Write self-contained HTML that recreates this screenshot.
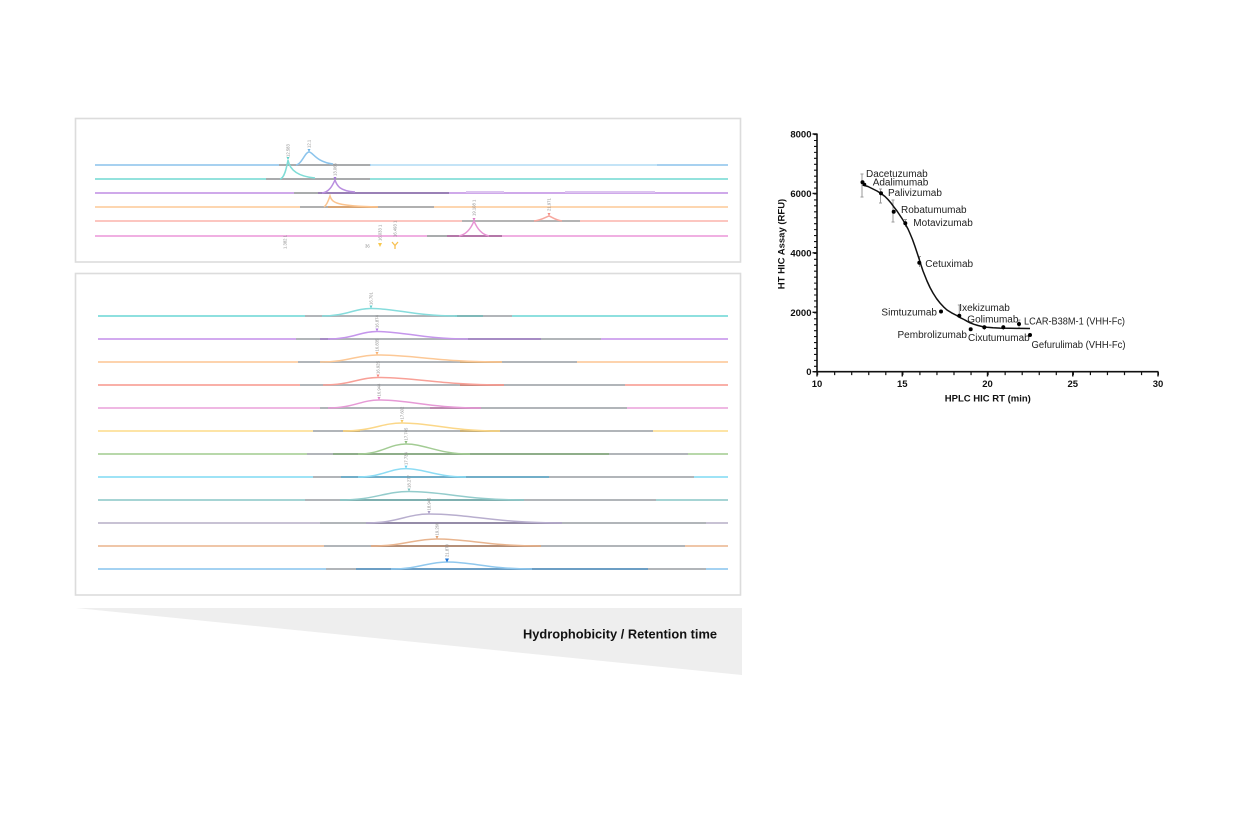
<!DOCTYPE html>
<html><head><meta charset="utf-8"><style>
html,body{margin:0;padding:0;background:#fff}
svg{display:block}
.lb{font-family:"Liberation Sans",Arial,sans-serif;font-size:10px;fill:#222}
.tk{font-family:"Liberation Sans",Arial,sans-serif;font-size:9.5px;font-weight:bold;fill:#111}
.vl{font-family:"Liberation Sans",Arial,sans-serif;font-size:4.2px;fill:#8a8a8a}
</style></head><body>
<svg width="1256" height="838" viewBox="0 0 1256 838" xmlns="http://www.w3.org/2000/svg">
<rect width="1256" height="838" fill="#fff"/>

<!-- ===== TOP PANEL ===== -->
<rect x="75.5" y="118.5" width="665" height="143.5" fill="#fff" stroke="#dcdcdc" stroke-width="1.6"/>
<g fill="none" stroke-width="2">
  <line x1="95" y1="165" x2="728" y2="165" stroke="#a7d1f0"/>
  <line x1="371" y1="165" x2="657" y2="165" stroke="#c4e4f7"/>
  <line x1="95" y1="179" x2="728" y2="179" stroke="#93e2dd"/>
  <line x1="95" y1="193" x2="728" y2="193" stroke="#cfa9ea"/>
  <line x1="466" y1="192" x2="504" y2="192" stroke="#dcc3f0"/>
  <line x1="565" y1="192" x2="655" y2="192" stroke="#dcc3f0"/>
  <line x1="95" y1="207" x2="728" y2="207" stroke="#fdd6b0"/>
  <line x1="95" y1="221" x2="728" y2="221" stroke="#fcc6c0"/>
  <line x1="95" y1="236" x2="728" y2="236" stroke="#f0b0e2"/>
  <line x1="279" y1="165" x2="370" y2="165" stroke="#a9abad"/>
  <line x1="266" y1="179" x2="370" y2="179" stroke="#a9abad"/>
  <line x1="294" y1="193" x2="449" y2="193" stroke="#a9abad"/>
  <line x1="318" y1="193" x2="449" y2="193" stroke="#9a80b6"/>
  <line x1="300" y1="207" x2="434" y2="207" stroke="#b0b0b0"/>
  <line x1="328" y1="207" x2="378" y2="207" stroke="#d7a474"/>
  <line x1="462" y1="221" x2="580" y2="221" stroke="#b4b4b4"/>
  <line x1="427" y1="236" x2="502" y2="236" stroke="#a9abad"/>
  <line x1="447" y1="236" x2="502" y2="236" stroke="#b477a8"/>
  <path d="M296 165 C302 164 305 152 309 152 C313 152 316 162 333 164" stroke="#8cc4ec" stroke-width="1.5"/>
  <path d="M280 179 C285 178 287 165 288 160 C289 166 293 176 315 178" stroke="#7fdcd6" stroke-width="1.5"/>
  <path d="M322 193 C330 192 333 184 335 180 C337 186 340 191 355 192" stroke="#b98ee0" stroke-width="1.5"/>
  <path d="M324 207 C327 205 329 199 330 196 C332 203 337 206 378 207" stroke="#fbc48f" stroke-width="1.5"/>
  <path d="M459 236 C468 234 472 226 474 221 C476 226 480 234 489 236" stroke="#e793d3" stroke-width="1.5"/>
  <path d="M534 221 C542 220 546 217 549 216 C552 217 555 220 562 221" stroke="#f7a79e" stroke-width="1.5"/>
</g>
<g>
  <polygon points="307.5,149 310.5,149 309,152" fill="#6cb4e6"/>
  <polygon points="286.5,157 289.5,157 288,160" fill="#5fd0c8"/>
  <polygon points="333.5,177 336.5,177 335,180" fill="#a677d6"/>
  <polygon points="472.5,218 475.5,218 474,221" fill="#de7cc8"/>
  <polygon points="547.5,213 550.5,213 549,216" fill="#f28f85"/>
  <polygon points="378,243 382,243 380,247" fill="#f7c850"/>
  <path d="M392 242 L395 245.5 L398 242 M395 245.5 L395 249" stroke="#f7c050" stroke-width="1.3" fill="none"/>
</g>
<g class="vl">
  <text transform="translate(310.5,148) rotate(-90)">12.1</text>
  <text transform="translate(289.5,157) rotate(-90)">12.583</text>
  <text transform="translate(336.5,176) rotate(-90)">13.066</text>
  <text transform="translate(475.5,216) rotate(-90)">19.108 1</text>
  <text transform="translate(550.5,211) rotate(-90)">21.971</text>
  <text transform="translate(286.5,249) rotate(-90)">1.382 1</text>
  <text x="365" y="247.5">36</text>
  <text transform="translate(381.5,241) rotate(-90)">16.033 1</text>
  <text transform="translate(396.5,237) rotate(-90)">16.493 1</text>
</g>

<!-- ===== BOTTOM PANEL ===== -->
<rect x="75.5" y="273.5" width="665" height="321.5" fill="#fff" stroke="#dcdcdc" stroke-width="1.6"/>
<g fill="none" stroke-width="2">
  <line x1="98" y1="316" x2="728" y2="316" stroke="#8ee0df"/>
  <line x1="98" y1="339" x2="728" y2="339" stroke="#d2aaef"/>
  <line x1="98" y1="362" x2="728" y2="362" stroke="#fdd3ad"/>
  <line x1="98" y1="385" x2="728" y2="385" stroke="#f9b0a8"/>
  <line x1="98" y1="408" x2="728" y2="408" stroke="#efb8e3"/>
  <line x1="98" y1="431" x2="728" y2="431" stroke="#fde4a6"/>
  <line x1="98" y1="454" x2="728" y2="454" stroke="#b8d8aa"/>
  <line x1="98" y1="477" x2="728" y2="477" stroke="#9ee3f6"/>
  <line x1="98" y1="500" x2="728" y2="500" stroke="#a6d4d4"/>
  <line x1="98" y1="523" x2="728" y2="523" stroke="#c8c2d4"/>
  <line x1="98" y1="546" x2="728" y2="546" stroke="#efc6a8"/>
  <line x1="98" y1="569" x2="728" y2="569" stroke="#a4d2f2"/>
  <g stroke="#b1b5b9">
    <line x1="305" y1="316" x2="512" y2="316"/>
    <line x1="296" y1="339" x2="601" y2="339"/>
    <line x1="298" y1="362" x2="577" y2="362"/>
    <line x1="300" y1="385" x2="625" y2="385"/>
    <line x1="320" y1="408" x2="627" y2="408"/>
    <line x1="313" y1="431" x2="653" y2="431"/>
    <line x1="307" y1="454" x2="688" y2="454"/>
    <line x1="313" y1="477" x2="694" y2="477"/>
    <line x1="305" y1="500" x2="656" y2="500"/>
    <line x1="320" y1="523" x2="706" y2="523"/>
    <line x1="324" y1="546" x2="685" y2="546"/>
    <line x1="326" y1="569" x2="706" y2="569"/>
  </g>
  <line x1="455" y1="316" x2="483" y2="316" stroke="#7fb8b8"/>
  <line x1="468" y1="339" x2="541" y2="339" stroke="#a68cc4"/>
  <line x1="320" y1="339" x2="330" y2="339" stroke="#a68cc4"/>
  <line x1="460" y1="362" x2="502" y2="362" stroke="#c9a77a"/>
  <line x1="460" y1="385" x2="504" y2="385" stroke="#c98a80"/>
  <line x1="430" y1="408" x2="481" y2="408" stroke="#b98aae"/>
  <line x1="343" y1="431" x2="360" y2="431" stroke="#c8b07a"/>
  <line x1="460" y1="431" x2="500" y2="431" stroke="#c8b07a"/>
  <line x1="333" y1="454" x2="609" y2="454" stroke="#8fae8a"/>
  <line x1="341" y1="477" x2="549" y2="477" stroke="#72aec8"/>
  <line x1="340" y1="500" x2="524" y2="500" stroke="#7fb0b0"/>
  <line x1="366" y1="523" x2="562" y2="523" stroke="#958ca8"/>
  <line x1="371" y1="546" x2="541" y2="546" stroke="#b48f78"/>
  <line x1="356" y1="569" x2="648" y2="569" stroke="#6c9ec4"/>
  <path d="M322 316 C346.5 316 353.9 308.5 371 308.5 C396.8 308.5 414 316 457 316" stroke="#86dcdc" stroke-width="1.5"/>
  <path d="M328 339 C352.5 339 359.9 331.5 377 331.5 C404.3 331.5 422.5 339 468 339" stroke="#c596ec" stroke-width="1.5"/>
  <path d="M320 362 C348.5 362 357 355 377 355 C414.5 355 439.5 362 502 362" stroke="#fcc896" stroke-width="1.5"/>
  <path d="M323 385 C350.5 385 358.8 377.5 378 377.5 C415.8 377.5 441 385 504 385" stroke="#f8a097" stroke-width="1.5"/>
  <path d="M328 408 C353.5 408 361.2 400 379 400 C409.6 400 430 408 481 408" stroke="#e69ad6" stroke-width="1.5"/>
  <path d="M343 431 C372.5 431 381.4 423 402 423 C431.4 423 451 431 500 431" stroke="#fbd788" stroke-width="1.5"/>
  <path d="M358 454 C382 454 389.2 444 406 444 C425.2 444 438 454 470 454" stroke="#a3cc94" stroke-width="1.5"/>
  <path d="M358 477 C382 477 389.2 468.6 406 468.6 C424 468.6 436 477 466 477" stroke="#8ddcf4" stroke-width="1.5"/>
  <path d="M340 500 C374.5 500 384.9 491.5 409 491.5 C443.5 491.5 466.5 500 524 500" stroke="#94cccc" stroke-width="1.5"/>
  <path d="M366 523 C397.5 523 407 514 429 514 C468.9 514 495.5 523 562 523" stroke="#b8aece" stroke-width="1.5"/>
  <path d="M371 546 C404 546 413.9 539 437 539 C468.2 539 489 546 541 546" stroke="#e8b48e" stroke-width="1.5"/>
  <path d="M391 569 C419 569 427.4 562 447 562 C472.5 562 489.5 569 532 569" stroke="#90c8ee" stroke-width="1.5"/>
</g>
<g>
  <polygon points="369.5,305.5 372.5,305.5 371,308.5" fill="#62cccc"/>
  <polygon points="375.5,328.5 378.5,328.5 377,331.5" fill="#b07ee0"/>
  <polygon points="375.5,352 378.5,352 377,355" fill="#f8b070"/>
  <polygon points="376.5,374.5 379.5,374.5 378,377.5" fill="#f58a80"/>
  <polygon points="377.5,397 380.5,397 379,400" fill="#e07fcc"/>
  <polygon points="400.5,420 403.5,420 402,423" fill="#f7c860"/>
  <polygon points="404.5,441 407.5,441 406,444" fill="#8cbc7c"/>
  <polygon points="404.5,465.6 407.5,465.6 406,468.6" fill="#6cd0f0"/>
  <polygon points="407.5,488.5 410.5,488.5 409,491.5" fill="#7cc0c0"/>
  <polygon points="427.5,511 430.5,511 429,514" fill="#a89cc4"/>
  <polygon points="435.5,536 438.5,536 437,539" fill="#e0a070"/>
  <polygon points="445,558.5 449,558.5 447,562.5" fill="#1e74d6"/>
</g>
<g class="vl">
  <text transform="translate(372.5,305) rotate(-90)">16.701</text>
  <text transform="translate(378.5,328) rotate(-90)">16.874</text>
  <text transform="translate(378.5,351.5) rotate(-90)">16.835</text>
  <text transform="translate(379.5,374) rotate(-90)">16.925</text>
  <text transform="translate(380.5,396.5) rotate(-90)">16.944</text>
  <text transform="translate(403.5,419.5) rotate(-90)">17.602</text>
  <text transform="translate(407.5,440.5) rotate(-90)">17.745</text>
  <text transform="translate(407.5,465) rotate(-90)">17.734</text>
  <text transform="translate(410.5,488) rotate(-90)">18.277</text>
  <text transform="translate(430.5,510.5) rotate(-90)">18.945</text>
  <text transform="translate(438.5,535.5) rotate(-90)">19.266</text>
  <text transform="translate(448.5,557) rotate(-90)">21.870</text>
</g>

<!-- ===== WEDGE ===== -->
<polygon points="76,608 742,608 742,675" fill="#eeeeee"/>
<text x="523" y="638.5" textLength="194" lengthAdjust="spacingAndGlyphs" style="font-family:'Liberation Sans',Arial,sans-serif;font-size:12.5px;font-weight:bold;fill:#111">Hydrophobicity / Retention time</text>

<!-- ===== RIGHT CHART ===== -->
<g stroke="#111" fill="none">
  <line x1="817" y1="133.5" x2="817" y2="372.5" stroke-width="1.6"/>
  <line x1="816.2" y1="371.7" x2="1158.5" y2="371.7" stroke-width="1.6"/>
  <line x1="815.5" y1="134" x2="815.5" y2="372.5" stroke-width="3" stroke-dasharray="1.1 4.8425"/>
  <line x1="817" y1="373.6" x2="1159" y2="373.6" stroke-width="3" stroke-dasharray="1.2 15.85"/>
  <path d="M812.5 134 H817 M812.5 193.4 H817 M812.5 252.85 H817 M812.5 312.3 H817 M812.5 371.7 H817" stroke-width="1.4"/>
  <path d="M817 371.7 V376.5 M902.25 371.7 V376.5 M987.5 371.7 V376.5 M1072.75 371.7 V376.5 M1158 371.7 V376.5" stroke-width="1.4"/>
</g>
<g class="tk" text-anchor="end">
  <text x="811.5" y="137.5">8000</text>
  <text x="811.5" y="196.9">6000</text>
  <text x="811.5" y="256.3">4000</text>
  <text x="811.5" y="315.8">2000</text>
  <text x="811.5" y="375.2">0</text>
</g>
<g class="tk" text-anchor="middle">
  <text x="817" y="386.8">10</text>
  <text x="902.25" y="386.8">15</text>
  <text x="987.5" y="386.8">20</text>
  <text x="1072.75" y="386.8">25</text>
  <text x="1158" y="386.8">30</text>
  <text x="987.8" y="401.5">HPLC HIC RT (min)</text>
  <text transform="translate(784.5,244) rotate(-90)">HT HIC Assay (RFU)</text>
</g>

<g stroke="#9a9a9a" stroke-width="1" fill="none">
  <path d="M862 174 V197 M860.5 174 H863.5 M860.5 197 H863.5"/>
  <path d="M880.5 189 V203 M879 189 H882 M879 203 H882"/>
  <path d="M893 200 V222 M891.5 200 H894.5 M891.5 222 H894.5"/>
  <path d="M905.5 219.5 V227 M904 219.5 H907"/>
  <path d="M919.5 256.5 V267 M918 256.5 H921"/>
  <path d="M959.3 305 V316 M957.8 305 H960.8"/>
  <path d="M1019 320 V329 M1017.5 320 H1020.5"/>
  <path d="M984.3 325 V330"/>
  <path d="M1003.3 325 V330"/>
</g>

<polyline fill="none" stroke="#111" stroke-width="1.5" stroke-linejoin="round" points="862.7,185 868,186.5 872,188.5 877,191 881,193.5 885,196.5 888,199.5 891,203 893.7,206.7 897,211 900,215.5 903,220 905.3,224 908,229 910,233.5 912.5,239.5 915,246.5 917,252.5 919.3,259.5 921,265 923,271 925,276 927,281 930,287.5 933,293 936.5,298.5 940,303 943.5,306.8 947,310 951.5,312.8 956.7,315.5 960.5,317.8 964,319.5 967,321.2 970,322.8 974,324.3 978,325.5 982.5,326.6 987,327.3 993,327.8 1000,328.1 1010,328.3 1020,328.4 1030,328.5"/>

<g fill="#000">
  <circle cx="862.5" cy="182.2" r="2"/>
  <circle cx="864.5" cy="184.5" r="1.8"/>
  <circle cx="881" cy="193.3" r="2"/>
  <circle cx="893.7" cy="211.7" r="2"/>
  <circle cx="905.3" cy="223.3" r="2"/>
  <circle cx="919.3" cy="262.7" r="2"/>
  <circle cx="941" cy="311.5" r="2"/>
  <circle cx="959.3" cy="315.7" r="2"/>
  <circle cx="970.7" cy="329.3" r="2"/>
  <circle cx="984.3" cy="327.3" r="2"/>
  <circle cx="1003.3" cy="327.3" r="2"/>
  <circle cx="1019" cy="324" r="2"/>
  <circle cx="1030" cy="335" r="2"/>
</g>

<g class="lb">
  <text x="866" y="176.8">Dacetuzumab</text>
  <text x="872.7" y="185.5">Adalimumab</text>
  <text x="888" y="196.2">Palivizumab</text>
  <text x="901" y="212.8">Robatumumab</text>
  <text x="913.3" y="226.2">Motavizumab</text>
  <text x="925.3" y="266.8">Cetuximab</text>
  <text x="937" y="315.5" text-anchor="end">Simtuzumab</text>
  <text x="959.3" y="310.8">Ixekizumab</text>
  <text x="967.3" y="322.5">Golimumab</text>
  <text x="1024" y="324.6" textLength="101" lengthAdjust="spacingAndGlyphs">LCAR-B38M-1 (VHH-Fc)</text>
  <text x="967" y="338" text-anchor="end">Pembrolizumab</text>
  <text x="968" y="341">Cixutumumab</text>
  <text x="1031.5" y="348" textLength="94" lengthAdjust="spacingAndGlyphs">Gefurulimab (VHH-Fc)</text>
</g>
</svg>
</body></html>
